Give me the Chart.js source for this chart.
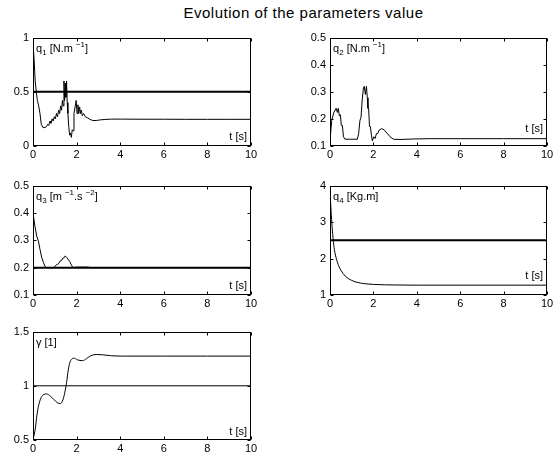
<!DOCTYPE html>
<html>
<head>
<meta charset="utf-8">
<script src="https://cdn.jsdelivr.net/npm/chart.js@4/dist/chart.umd.min.js"></script>
<style>
    body { margin: 0; background: #fff; }
    #page { position: relative; width: 559px; height: 456px; font-family: "Liberation Sans", Arial, sans-serif; color: #000; }
    .title { position: absolute; left: 0; width: 607px; top: 4px; text-align: center; font-size: 15px; letter-spacing: 0.5px; }
    .box { position: absolute; }
    .lab { position: absolute; font-size: 11px; white-space: nowrap; line-height: 11px; }
    .lab sub, .lab sup { font-size: 8px; line-height: 0; }
</style>
</head>
<body>
<div id="page">
    <div class="title">Evolution of the parameters value</div>
</div>
<script>
// time axis ticks shared by all panels
const timeTicks = [0, 2, 4, 6, 8, 10];

// q1 estimate
const q1Time = [0, 0.05, 0.1, 0.15, 0.2, 0.26, 0.32, 0.38, 0.46, 0.55, 0.62, 0.68, 0.72, 0.78, 0.82, 0.88, 0.92, 0.98, 1.02, 1.08, 1.12, 1.18, 1.22, 1.27, 1.31, 1.35, 1.38, 1.42, 1.45, 1.48, 1.51, 1.54, 1.57, 1.6, 1.64, 1.68, 1.72, 1.76, 1.8, 1.84, 1.88, 1.93, 1.98, 2.02, 2.06, 2.1, 2.14, 2.18, 2.22, 2.26, 2.32, 2.4, 2.5, 2.62, 2.75, 2.9, 3.05, 3.3, 3.6, 4, 5, 6, 7, 8, 9, 10];
const q1Value = [0.95, 0.8, 0.6, 0.5, 0.42, 0.37, 0.3, 0.2, 0.17, 0.17, 0.18, 0.2, 0.19, 0.23, 0.21, 0.25, 0.23, 0.27, 0.25, 0.3, 0.27, 0.33, 0.3, 0.37, 0.33, 0.42, 0.37, 0.6, 0.42, 0.58, 0.45, 0.6, 0.4, 0.3, 0.18, 0.1, 0.12, 0.08, 0.15, 0.14, 0.3, 0.36, 0.42, 0.3, 0.38, 0.3, 0.36, 0.3, 0.33, 0.28, 0.3, 0.27, 0.26, 0.245, 0.235, 0.235, 0.24, 0.245, 0.248, 0.248, 0.247, 0.247, 0.246, 0.246, 0.246, 0.246];

// q2 estimate
const q2Time = [0, 0.08, 0.18, 0.28, 0.34, 0.38, 0.43, 0.48, 0.52, 0.57, 0.62, 0.69, 0.9, 1.1, 1.26, 1.32, 1.38, 1.43, 1.48, 1.54, 1.58, 1.63, 1.68, 1.72, 1.75, 1.78, 1.82, 1.86, 1.91, 1.95, 2.02, 2.08, 2.14, 2.2, 2.26, 2.38, 2.49, 2.62, 2.77, 2.92, 3.23, 3.85, 4.6, 6, 8, 10];
const q2Value = [0.122, 0.194, 0.224, 0.239, 0.224, 0.239, 0.212, 0.215, 0.176, 0.176, 0.134, 0.125, 0.125, 0.125, 0.125, 0.146, 0.194, 0.206, 0.266, 0.314, 0.32, 0.29, 0.32, 0.278, 0.239, 0.239, 0.172, 0.172, 0.14, 0.119, 0.134, 0.128, 0.146, 0.146, 0.158, 0.164, 0.16, 0.148, 0.134, 0.125, 0.124, 0.126, 0.127, 0.127, 0.127, 0.127];

// q3 estimate
const q3Time = [0, 0.09, 0.17, 0.25, 0.32, 0.4, 0.48, 0.55, 0.63, 0.94, 1.09, 1.17, 1.25, 1.31, 1.37, 1.43, 1.48, 1.55, 1.63, 1.69, 1.74, 1.83, 2.0, 2.48, 2.7, 10];
const q3Value = [0.399, 0.351, 0.315, 0.297, 0.267, 0.237, 0.219, 0.204, 0.2, 0.2, 0.211, 0.214, 0.225, 0.226, 0.235, 0.236, 0.243, 0.237, 0.228, 0.222, 0.213, 0.2, 0.202, 0.202, 0.2, 0.2];

// q4 estimate
const q4Time = [0, 0.05, 0.1, 0.15, 0.2, 0.3, 0.4, 0.5, 0.7, 1.0, 1.3, 1.6, 2.0, 2.5, 3, 4, 10];
const q4Value = [3.85, 3.3, 2.85, 2.5, 2.25, 1.98, 1.8, 1.68, 1.52, 1.4, 1.34, 1.31, 1.29, 1.28, 1.275, 1.27, 1.27];

// gamma estimate
const gammaTime = [0, 0.11, 0.18, 0.26, 0.37, 0.5, 0.62, 0.8, 0.95, 1.11, 1.26, 1.38, 1.46, 1.54, 1.62, 1.7, 1.8, 1.9, 2.03, 2.28, 2.45, 2.65, 2.9, 3.2, 3.6, 4, 6, 8, 10];
const gammaValue = [0.5, 0.61, 0.73, 0.82, 0.89, 0.92, 0.925, 0.905, 0.875, 0.845, 0.836, 0.875, 0.94, 1.03, 1.15, 1.22, 1.25, 1.255, 1.24, 1.232, 1.25, 1.277, 1.289, 1.286, 1.277, 1.274, 1.274, 1.274, 1.274];

// nominal values (horizontal references)
const refLevels = [0.5, null, 0.2, 2.5, 1];
const refWidths = [2, 0, 2, 2, 1];

const panels = [
    { t: q1Time, v: q1Value, min: 0, max: 1, step: 0.5, left: 33, top: 35, w: 218, h: 111, name: 'q<sub>1</sub> [N.m <sup>−1</sup>]', smooth: false, tUp: 15 },
    { t: q2Time, v: q2Value, min: 0.1, max: 0.5, step: 0.1, left: 330, top: 35, w: 217, h: 111, name: 'q<sub>2</sub> [N.m <sup>−1</sup>]', smooth: false, tUp: 23 },
    { t: q3Time, v: q3Value, min: 0.1, max: 0.5, step: 0.1, left: 33, top: 183, w: 218, h: 112, name: 'q<sub>3</sub> [m <sup>−1</sup>.s <sup>−2</sup>]', smooth: false, tUp: 15 },
    { t: q4Time, v: q4Value, min: 1, max: 4, step: 1, left: 330, top: 183, w: 217, h: 112, name: 'q<sub>4</sub> [Kg.m]', smooth: true, tUp: 25 },
    { t: gammaTime, v: gammaValue, min: 0.5, max: 1.5, step: 0.5, left: 33, top: 329, w: 218, h: 111, name: 'γ [1]', smooth: true, tUp: 14 }
];

const PADL = 34, PADT = 8, PADR = 10, PADB = 18;

// box + inward ticks like matlab axes
const framePlugin = {
    id: "frame",
    afterDraw(chart) {
        const { ctx, chartArea: a, scales } = chart;
        const l = Math.round(a.left) + 0.5, r = Math.round(a.right) - 0.5;
        const t = Math.round(a.top) + 0.5, b = Math.round(a.bottom) - 0.5;
        ctx.save();
        ctx.strokeStyle = "#000";
        ctx.lineWidth = 1;
        ctx.strokeRect(l, t, r - l, b - t);
        ctx.beginPath();
        scales.x.ticks.forEach(tk => {
            const px = Math.round(scales.x.getPixelForValue(tk.value)) + 0.5;
            ctx.moveTo(px, b); ctx.lineTo(px, b - 3);
            ctx.moveTo(px, t); ctx.lineTo(px, t + 3);
        });
        scales.y.ticks.forEach(tk => {
            const py = Math.round(scales.y.getPixelForValue(tk.value)) + 0.5;
            ctx.moveTo(l, py); ctx.lineTo(l + 3, py);
            ctx.moveTo(r, py); ctx.lineTo(r - 3, py);
        });
        ctx.stroke();
        ctx.restore();
    }
};

const fmt = v => String(Math.round(v * 100) / 100);

const page = document.getElementById("page");

panels.forEach((p, i) => {
    const box = document.createElement("div");
    box.className = "box";
    box.style.left = (p.left - PADL) + "px";
    box.style.top = (p.top - PADT) + "px";
    const cw = p.w + PADL + PADR, ch = p.h + PADT + PADB;
    box.style.width = cw + "px";
    box.style.height = ch + "px";
    const canvas = document.createElement("canvas");
    canvas.width = cw;
    canvas.height = ch;
    box.appendChild(canvas);

    const name = document.createElement("div");
    name.className = "lab";
    name.innerHTML = p.name;
    name.style.left = (PADL + 3) + "px";
    name.style.top = (PADT + 8) + "px";
    box.appendChild(name);

    const tl = document.createElement("div");
    tl.className = "lab";
    tl.textContent = "t [s]";
    tl.style.right = (PADR + 4) + "px";
    tl.style.top = (PADT + p.h - p.tUp) + "px";
    box.appendChild(tl);

    page.appendChild(box);

    const datasets = [{
        data: p.t.map((x, k) => ({ x: x, y: p.v[k] })),
        borderColor: "#000",
        borderWidth: 1,
        pointRadius: 0,
        cubicInterpolationMode: p.smooth ? "monotone" : "default",
        tension: 0
    }];
    if (refLevels[i] !== null) {
        datasets.push({
            data: [{ x: timeTicks[0], y: refLevels[i] }, { x: timeTicks[timeTicks.length - 1], y: refLevels[i] }],
            borderColor: "#000",
            borderWidth: refWidths[i],
            pointRadius: 0
        });
    }

    new Chart(canvas.getContext("2d"), {
        type: "line",
        data: { datasets: datasets },
        options: {
            responsive: false,
            animation: false,
            events: [],
            layout: { padding: { top: PADT, right: PADR, left: 0, bottom: 0 } },
            plugins: { legend: { display: false }, tooltip: { enabled: false } },
            scales: {
                x: {
                    type: "linear",
                    min: timeTicks[0],
                    max: timeTicks[timeTicks.length - 1],
                    afterBuildTicks: s => { s.ticks = timeTicks.map(v => ({ value: v })); },
                    afterFit: s => { s.height = PADB; },
                    grid: { display: false, drawTicks: false, tickLength: 0 },
                    border: { display: false },
                    ticks: {
                        autoSkip: false, maxRotation: 0, padding: 2, color: "#000",
                        font: { family: "Liberation Sans, Arial", size: 11 }
                    }
                },
                y: {
                    min: p.min,
                    max: p.max,
                    afterFit: s => { s.width = PADL; },
                    grid: { display: false, drawTicks: false, tickLength: 0 },
                    border: { display: false },
                    ticks: {
                        stepSize: p.step, padding: 4, color: "#000",
                        callback: fmt,
                        font: { family: "Liberation Sans, Arial", size: 11 }
                    }
                }
            }
        },
        plugins: [framePlugin]
    });
});
</script>
</body>
</html>
